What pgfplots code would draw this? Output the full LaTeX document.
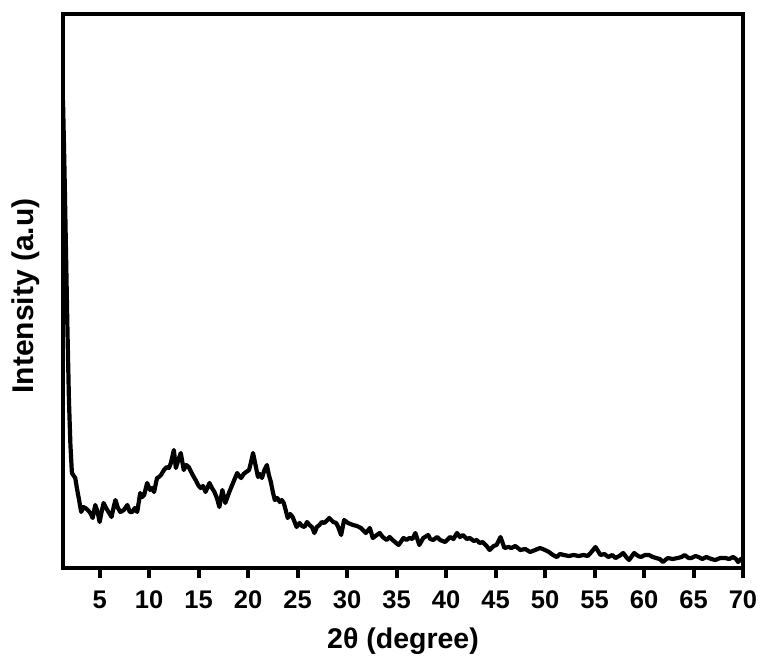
\documentclass[border=0pt]{standalone}
\usepackage{fontspec}
\setmainfont{Liberation Sans}
\usepackage{pgfplots}
\pgfplotsset{compat=1.18}
\begin{document}
\begin{tikzpicture}[x=1pt,y=1pt]
\path[use as bounding box] (-63,-97) rectangle (706,568);
\begin{axis}[
  at={(0,0)}, anchor=south west,
  width=680pt, height=554pt, scale only axis,
  xmin=1.3, xmax=70, ymin=0, ymax=554,
  xtick={5,10,...,70}, ytick=\empty,
  xtick pos=bottom, tick align=outside,
  major tick length=10pt,
  every tick/.style={line width=4pt, black},
  axis line style={line width=4pt},
  /pgf/number format/assume math mode=true,
  ticklabel style={font=\fontsize{25.5}{25.5}\selectfont\bfseries},
  xticklabel style={yshift=-9pt},
  xlabel={2θ (degree)},
  ylabel={Intensity (a.u)},
  xlabel style={font=\fontsize{28.5}{28.5}\selectfont\bfseries, at={(axis description cs:0.5,0)}, anchor=base, yshift=-80pt},
  ylabel style={font=\fontsize{30}{30}\selectfont\bfseries, at={(axis description cs:-0.044,0.491)}, anchor=base},
]
\addplot[black, line width=4.2pt, line join=round] coordinates {
(1.3,468)(1.45,398)(1.6,318)(1.75,238)(1.9,168)(2.05,123)(2.2,95)(2.4,92)(2.54,90)(2.7,80)
(2.87,71)(3.14,56)(3.35,61)(3.55,60)(3.8,58)(4.06,55)(4.3,50)(4.56,63)(4.8,56)(5.0,46)
(5.2,56)(5.4,65)(5.65,60)(5.9,56)(6.2,51)(6.4,60)(6.6,68)(6.85,60)(7.1,56)(7.45,58)
(7.8,63)(8.05,56)(8.3,56)(8.55,60)(8.8,56)(9.1,75)(9.3,71)(9.5,73)(9.8,85)(10.1,78)
(10.3,80)(10.5,76)(10.8,90)(11.0,91)(11.2,93)(11.5,98)(11.8,101)(12.0,100)(12.2,105)(12.5,118)
(12.7,100)(12.95,108)(13.2,115)(13.5,98)(13.75,103)(14.0,101)(14.4,93)(14.7,88)(14.95,83)(15.2,80)
(15.45,82)(15.7,76)(16.1,85)(16.35,80)(16.6,76)(16.85,70)(17.1,61)(17.4,78)(17.7,65)(18.1,76)
(18.35,82)(18.6,88)(18.9,95)(19.1,92)(19.3,90)(19.55,94)(19.8,96)(20.1,98)(20.3,106)(20.5,115)
(20.75,103)(21.0,91)(21.2,94)(21.4,90)(21.65,98)(21.9,103)(22.1,93)(22.3,86)(22.5,76)(22.7,68)
(22.95,70)(23.2,66)(23.4,68)(23.6,65)(23.8,58)(24.0,50)(24.25,54)(24.5,51)(24.7,46)(24.9,41)
(25.2,45)(25.45,42)(25.7,41)(25.95,46)(26.2,43)(26.45,41)(26.7,35)(26.95,41)(27.2,43)(27.45,46)
(27.7,45)(28.2,50)(28.6,46)(28.9,45)(29.1,41)(29.4,33)(29.7,48)(30.1,45)(30.6,43)(31.0,42)
(31.4,40)(31.9,35)(32.3,40)(32.6,30)(33.0,33)(33.3,35)(33.6,31)(34.0,28)(34.3,31)(34.6,28)
(35.2,23)(35.7,30)(36.0,28)(36.3,30)(36.6,29)(36.9,35)(37.3,23)(37.7,30)(38.2,33)(38.4,29)
(38.7,28)(39.1,31)(39.4,28)(39.9,26)(40.4,31)(40.75,29)(41.1,35)(41.4,31)(41.7,33)(42.1,29)
(42.4,30)(42.8,27)(43.1,28)(43.4,25)(43.7,26)(44.1,22)(44.4,18)(44.8,22)(45.1,23)(45.5,31)
(45.9,20)(46.3,21)(46.6,20)(47.0,22)(47.5,18)(48.0,19)(48.5,16)(49.0,18)(49.5,20)(50.0,18)
(50.4,16)(50.8,13)(51.2,11)(51.5,14)(51.9,13)(52.4,12)(52.9,13)(53.4,12)(53.9,13)(54.3,12)
(54.6,15)(55.1,21)(55.6,13)(56.0,14)(56.4,11)(56.8,13)(57.1,10)(57.5,12)(57.9,15)(58.2,11)
(58.5,8)(59.0,15)(59.4,12)(59.7,11)(60.1,13)(60.5,13)(60.9,11)(61.2,10)(61.6,9)(61.9,6)
(62.4,10)(62.9,9)(63.4,10)(63.8,11)(64.1,13)(64.5,10)(64.8,10)(65.2,12)(65.5,11)(65.9,9)
(66.3,11)(66.8,9)(67.2,8)(67.7,10)(68.2,10)(68.6,9)(69.0,11)(69.3,9)(69.5,6)(69.8,9)(70.0,10)
};
\end{axis}
\end{tikzpicture}
\end{document}
